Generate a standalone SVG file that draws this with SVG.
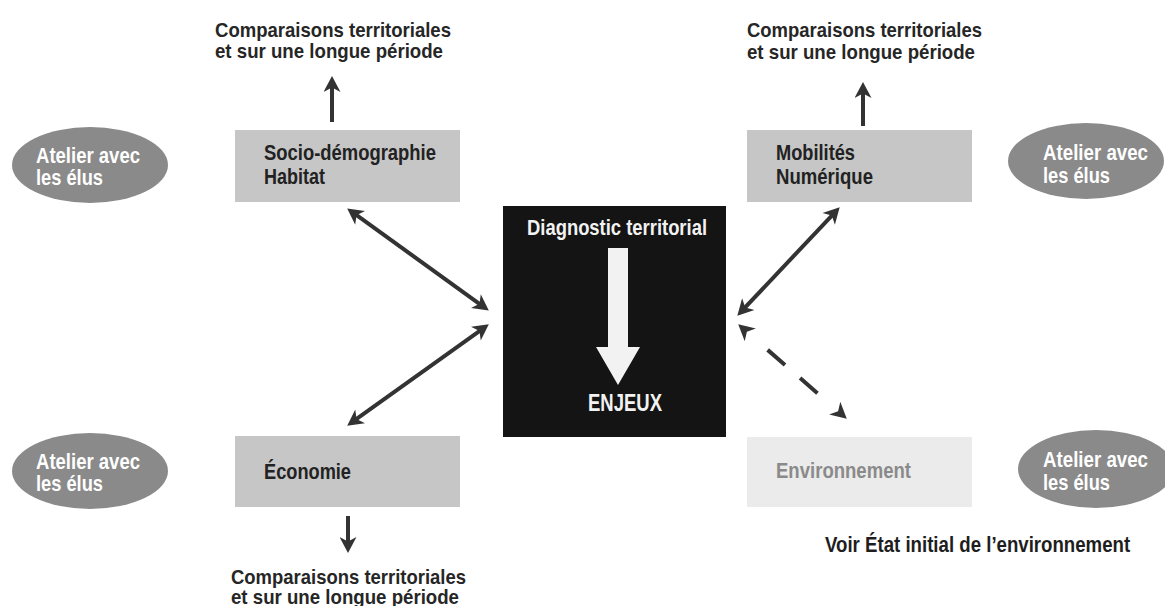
<svg xmlns="http://www.w3.org/2000/svg" width="1165" height="606" viewBox="0 0 1165 606">
<style>
text{font-family:"Liberation Sans Narrow","Liberation Sans",Arial,sans-serif;font-weight:bold;}
.cmp{font-size:20.5px;fill:#262626;}
.lbl{font-size:21.5px;fill:#222;}
.at{font-size:22px;fill:#fff;}
.box{fill:#c6c6c6;}
.ell{fill:#8a8a8a;}
.con{fill:none;stroke:#333;stroke-width:4;}
</style>
<defs>
<marker id="ah" markerUnits="userSpaceOnUse" markerWidth="17" markerHeight="17" viewBox="0 0 16 17" refX="7" refY="8.5" orient="auto-start-reverse">
<path d="M0,0 L16,8.5 L0,17 L4.5,8.5 z" fill="#333"/>
</marker>
</defs>
<rect width="1165" height="606" fill="#fff"/>

<g id="cmp-tl">
<text class="cmp"><tspan x="215" y="36.5" textLength="236" lengthAdjust="spacingAndGlyphs">Comparaisons territoriales</tspan><tspan x="215" y="58" textLength="228" lengthAdjust="spacingAndGlyphs">et sur une longue période</tspan></text>
</g>
<g id="cmp-tr">
<text class="cmp"><tspan x="747" y="37" textLength="235" lengthAdjust="spacingAndGlyphs">Comparaisons territoriales</tspan><tspan x="747" y="58.5" textLength="228" lengthAdjust="spacingAndGlyphs">et sur une longue période</tspan></text>
</g>
<g id="cmp-bl">
<text class="cmp"><tspan x="231" y="584" textLength="235" lengthAdjust="spacingAndGlyphs">Comparaisons territoriales</tspan><tspan x="231" y="604" textLength="228" lengthAdjust="spacingAndGlyphs">et sur une longue période</tspan></text>
</g>

<g id="atelier-tl">
<ellipse class="ell" cx="90" cy="165" rx="78" ry="38"/>
<text class="at"><tspan x="36" y="162.5" textLength="104" lengthAdjust="spacingAndGlyphs">Atelier avec</tspan><tspan x="36" y="185" textLength="67" lengthAdjust="spacingAndGlyphs">les élus</tspan></text>
</g>
<g id="atelier-tr">
<ellipse class="ell" cx="1086" cy="161" rx="78" ry="38"/>
<text class="at"><tspan x="1043" y="160" textLength="105" lengthAdjust="spacingAndGlyphs">Atelier avec</tspan><tspan x="1043" y="182.5" textLength="67" lengthAdjust="spacingAndGlyphs">les élus</tspan></text>
</g>
<g id="atelier-bl">
<ellipse class="ell" cx="90" cy="471" rx="78" ry="38"/>
<text class="at"><tspan x="36" y="469" textLength="104" lengthAdjust="spacingAndGlyphs">Atelier avec</tspan><tspan x="36" y="491" textLength="67" lengthAdjust="spacingAndGlyphs">les élus</tspan></text>
</g>
<g id="atelier-br">
<ellipse class="ell" cx="1096" cy="469" rx="78" ry="39"/>
<text class="at"><tspan x="1043" y="467" textLength="105" lengthAdjust="spacingAndGlyphs">Atelier avec</tspan><tspan x="1043" y="489.5" textLength="67" lengthAdjust="spacingAndGlyphs">les élus</tspan></text>
</g>

<g id="socio">
<rect class="box" x="235" y="130" width="225" height="72"/>
<text class="lbl"><tspan x="264" y="160" textLength="172" lengthAdjust="spacingAndGlyphs">Socio-démographie</tspan><tspan x="264" y="184" textLength="61" lengthAdjust="spacingAndGlyphs">Habitat</tspan></text>
</g>
<g id="mobilites">
<rect class="box" x="747" y="130" width="225" height="72"/>
<text class="lbl"><tspan x="776" y="160" textLength="79" lengthAdjust="spacingAndGlyphs">Mobilités</tspan><tspan x="776" y="184" textLength="97" lengthAdjust="spacingAndGlyphs">Numérique</tspan></text>
</g>
<g id="economie">
<rect class="box" x="235" y="436" width="225" height="71"/>
<text class="lbl" x="264" y="479" textLength="87" lengthAdjust="spacingAndGlyphs">Économie</text>
</g>
<g id="environnement">
<rect x="747" y="437" width="225" height="70" fill="#ebebeb"/>
<text class="lbl" x="776" y="478" textLength="135" lengthAdjust="spacingAndGlyphs" style="fill:#8a8a8a">Environnement</text>
</g>
<g id="diagnostic">
<rect x="503" y="206" width="223" height="231" fill="#141414"/>
<text x="527" y="235" textLength="180" lengthAdjust="spacingAndGlyphs" style="font-size:22px;fill:#f2f2f2">Diagnostic territorial</text>
<path d="M608,248 L628,248 L628,347 L640,347 L618,385 L596,347 L608,347 Z" fill="#f2f2f2"/>
<text x="588" y="411" textLength="74" lengthAdjust="spacingAndGlyphs" style="font-size:23px;fill:#f2f2f2">ENJEUX</text>
</g>
<g id="voir">
<text x="0" y="0" transform="translate(825,552) scale(0.862,1)" textLength="354" lengthAdjust="spacingAndGlyphs" style="font-size:21.5px;fill:#1e1e1e">Voir État initial de l’environnement</text>
</g>

<g id="connectors">
<path class="con" d="M332,122 L332,85" marker-end="url(#ah)"/>
<path class="con" d="M863,126 L863,91" marker-end="url(#ah)"/>
<path class="con" d="M348,516 L348,544" marker-end="url(#ah)"/>
<path class="con" d="M354.5,213.7 L481.5,305.3" marker-start="url(#ah)" marker-end="url(#ah)"/>
<path class="con" d="M481.5,329.6 L354.5,420.4" marker-start="url(#ah)" marker-end="url(#ah)"/>
<path class="con" d="M833.5,213.8 L743.5,309.2" marker-start="url(#ah)" marker-end="url(#ah)"/>
<path class="con" d="M745,330.2 L840,412.8" stroke-dasharray="0 30 23 20 23 100" marker-start="url(#ah)" marker-end="url(#ah)"/>
</g>
</svg>
